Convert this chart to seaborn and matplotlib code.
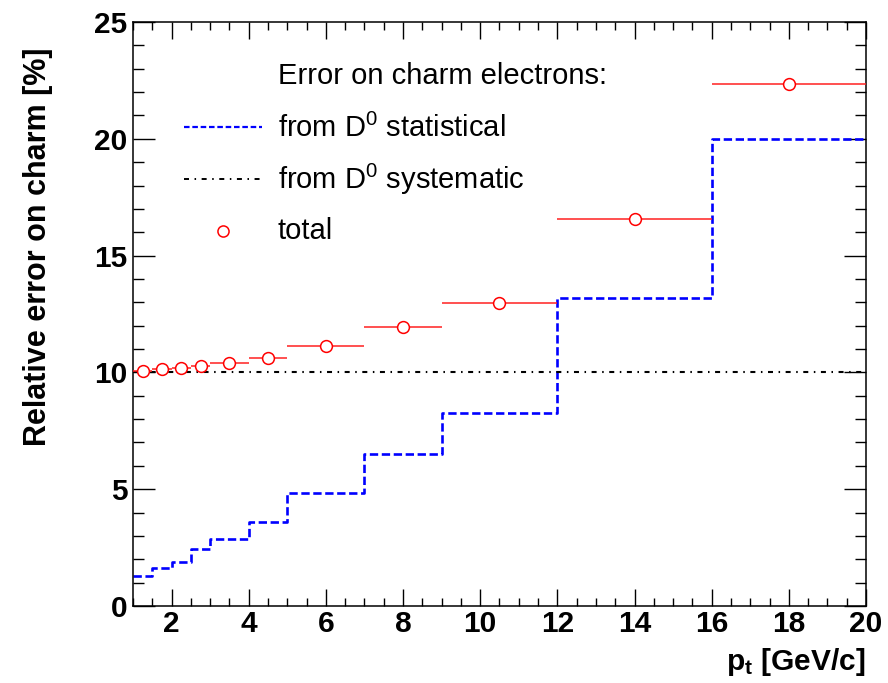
import numpy as np
import matplotlib
matplotlib.use("Agg")
import matplotlib.pyplot as plt
from matplotlib.ticker import MultipleLocator
import seaborn as sns

# pt bins [GeV/c] and relative errors [%]
bin_edges = [1.0, 1.5, 2.0, 2.5, 3.0, 4.0, 5.0, 7.0, 9.0, 12.0, 16.0, 20.0]
stat_err = [1.30, 1.62, 1.90, 2.43, 2.86, 3.60, 4.82, 6.52, 8.28, 13.2, 20.0]
syst_err = [10.0, 10.0]
syst_range = [1.0, 20.0]
total_err = [10.08, 10.15, 10.18, 10.29, 10.42, 10.62, 11.12, 11.96, 12.99, 16.56, 22.36]

x_ticks = [2, 4, 6, 8, 10, 12, 14, 16, 18, 20]
y_ticks = [0, 5, 10, 15, 20, 25]

sns.set_theme(style="ticks")
plt.rcParams["font.family"] = ["Liberation Sans", "DejaVu Sans"]
plt.rcParams["mathtext.fontset"] = "custom"
plt.rcParams["mathtext.rm"] = "Liberation Sans"
plt.rcParams["mathtext.it"] = "Liberation Sans:italic"
plt.rcParams["mathtext.bf"] = "Liberation Sans:bold"
plt.rcParams["mathtext.default"] = "rm"
plt.rcParams["lines.scale_dashes"] = False
for key in ["text.color", "axes.labelcolor", "xtick.color", "ytick.color",
            "axes.edgecolor"]:
    plt.rcParams[key] = "black"

DASHDOT = (3.6, 4.0, 1.1, 4.0)

W, H = 888, 683
fig = plt.figure(figsize=(W / 100, H / 100), dpi=100)
L, R, T, B = 133, 866, 22, 606
ax = fig.add_axes([L / W, 1 - B / H, (R - L) / W, (B - T) / H])

edges = np.array(bin_edges)
centers = 0.5 * (edges[1:] + edges[:-1])
half_w = 0.5 * (edges[1:] - edges[:-1])

# statistical error as a step histogram
stat_steps = list(stat_err) + [stat_err[-1]]
sns.lineplot(x=edges, y=stat_steps, drawstyle="steps-post", color="#0000ff",
             linewidth=1.9, ax=ax, sort=False, zorder=2)
ax.lines[-1].set_dashes((6.0, 2.6))

# systematic error (flat)
sns.lineplot(x=syst_range, y=syst_err, color="black", linewidth=1.5, ax=ax,
             sort=False, zorder=2)
ax.lines[-1].set_dashes(DASHDOT)

# total error: horizontal bars + open circles
ax.errorbar(centers, total_err, xerr=half_w, fmt="none", ecolor="#ff2020",
            elinewidth=1.1, capsize=0, zorder=3)
sns.scatterplot(x=centers, y=total_err, marker="o", s=72, facecolor="white",
                edgecolor="#ff0000", linewidth=1.1, ax=ax, zorder=4)

ax.set_xlim(1, 20)
ax.set_ylim(0, 25)
ax.set_xticks(x_ticks)
ax.set_yticks(y_ticks)
ax.xaxis.set_minor_locator(MultipleLocator(0.5))
ax.yaxis.set_minor_locator(MultipleLocator(1))
ax.tick_params(which="both", direction="in", top=True, right=True, width=1.0,
               color="black")
ax.tick_params(axis="x", which="major", length=12.5, pad=3)
ax.tick_params(axis="x", which="minor", length=6)
ax.tick_params(axis="y", which="major", length=16, pad=4)
ax.tick_params(axis="y", which="minor", length=8)
for lab in ax.get_xticklabels() + ax.get_yticklabels():
    lab.set_fontsize(21.5)
    lab.set_fontweight("bold")
    lab.set_color("black")
for sp in ax.spines.values():
    sp.set_linewidth(1.1)
    sp.set_color("black")
ax.set_xlabel("")
ax.set_ylabel("")

fig.text(38 / W, 1 - 47 / H, "Relative error on charm [%]", rotation=90,
         ha="center", va="top", fontsize=22, fontweight="bold")
fig.text(865 / W, 1 - 662 / H, r"p$_\mathbf{t}$ [GeV/c]", ha="right",
         va="center", fontsize=21.5, fontweight="bold")

# legend block
def ax_xy(px, py):
    return (px - L) / (R - L), (B - py) / (B - T)

tx, _ = ax_xy(278, 0)
for py, txt in [(84, "Error on charm electrons:"),
                (137, "from D$^0$ statistical"),
                (189, "from D$^0$ systematic"),
                (239, "total")]:
    ax.text(tx, ax_xy(0, py)[1], txt, transform=ax.transAxes, ha="left",
            va="baseline", fontsize=21)

x0, _ = ax_xy(184, 0)
x1, _ = ax_xy(262, 0)
_, y_stat = ax_xy(0, 127)
_, y_syst = ax_xy(0, 179)
ln, = ax.plot([x0, x1], [y_stat, y_stat], transform=ax.transAxes,
              color="#0000ff", linewidth=1.6)
ln.set_dashes((4.0, 2.0))
ln, = ax.plot([x0, x1], [y_syst, y_syst], transform=ax.transAxes,
              color="black", linewidth=1.4)
ln.set_dashes(DASHDOT)
cx, cy = ax_xy(223, 231)
ax.plot([cx], [cy], transform=ax.transAxes, marker="o", markersize=8,
        markerfacecolor="white", markeredgecolor="#ff0000",
        markeredgewidth=1.1, linestyle="none")

fig.savefig("out.png", dpi=100, facecolor="white")
